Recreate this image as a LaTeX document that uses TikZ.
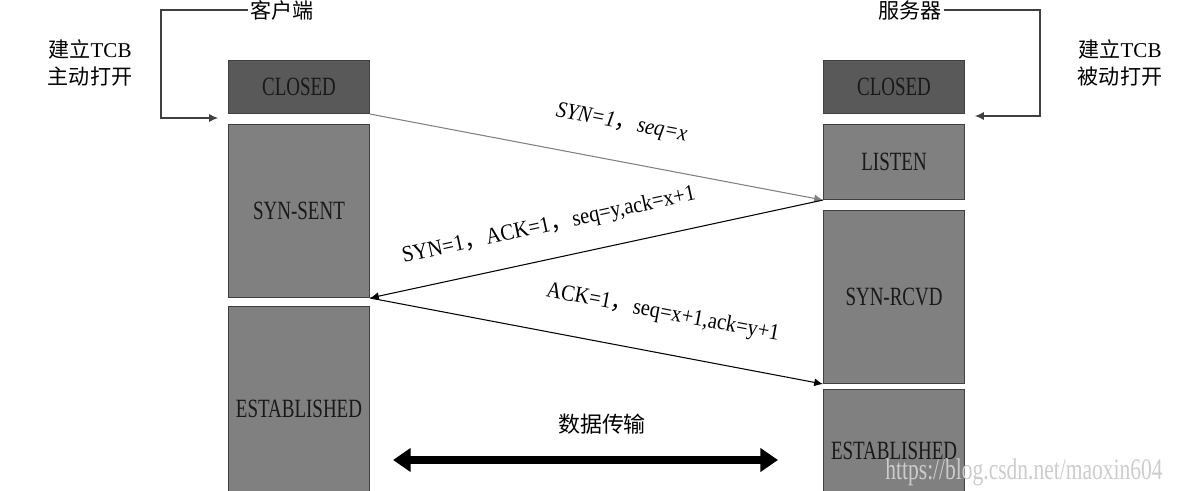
\documentclass[tikz,border=0pt]{standalone}
\usepackage{fontspec}
\setmainfont{Liberation Serif}
\newfontfamily\boxfont[FakeStretch=0.72]{Liberation Serif}
\newfontfamily\lblfont[FakeStretch=0.9]{Liberation Serif}
\newfontfamily\cjk{Noto Sans CJK SC}
\usetikzlibrary{arrows.meta}
\definecolor{stategray}{HTML}{808080}
\definecolor{closedgray}{HTML}{595959}
\newcommand{\cjkcomma}{{\cjk ，}}

\begin{document}
\begin{tikzpicture}[x=0.02cm, y=-0.02cm, >={Latex[length=5pt,width=4.5pt]},
  state/.style={draw=black!75, line width=0.6pt, fill=stategray, minimum width=2.82cm,
    inner sep=0pt, anchor=north west, text=black!90, font=\boxfont\fontsize{15}{17}\selectfont},
  closed/.style={state, fill=closedgray},
  msg/.style={->, line width=0.6pt},
  lbl/.style={sloped, font=\lblfont\fontsize{13}{15}\selectfont},
  tcb/.style={align=center, font=\fontsize{12}{15}\selectfont},
  bracket/.style={->, line width=0.6pt, draw=black!75}]
  \useasboundingbox (0,0) rectangle (1192,490);
  \clip (0,0) rectangle (1192,490);

  % client side
  \node[closed, minimum height=1.06cm] (cclosed) at (228,60) {CLOSED};
  \node[state, minimum height=3.46cm] (csent) at (228,124) {SYN-SENT};
  \node[state, minimum height=4.08cm] (cest) at (228,306) {ESTABLISHED};

  % server side
  \node[closed, minimum height=1.06cm] (sclosed) at (823,60) {CLOSED};
  \node[state, minimum height=1.5cm] (slisten) at (823,124) {LISTEN};
  \node[state, minimum height=3.46cm] (srcvd) at (823,210) {SYN-RCVD};
  \node[state, minimum height=2.44cm] (sest) at (823,389) {ESTABLISHED};

  % open TCB
  \node[tcb, inner sep=1pt] (client) at (282,10) {\cjk 客户端};
  \node[tcb, inner sep=1pt] (server) at (910,10) {\cjk 服务器};
  \node[tcb] (aopen) at (90,63) {{\cjk 建立}TCB\\{\cjk 主动打开}};
  \node[tcb] (popen) at (1120,63) {{\cjk 建立}TCB\\{\cjk 被动打开}};
  \coordinate (lturn) at (161,118);
  \coordinate (lin) at (218,118);
  \coordinate (rturn) at (1040,116);
  \coordinate (rin) at (975,116);
  \draw[bracket] (client.west) -| (lturn) -- (lin);
  \draw[bracket] (server.east) -| (rturn) -- (rin);

  % handshake
  \draw[msg, draw=stategray] (cclosed.south east) -- (slisten.south west)
    node[lbl, pos=0.54, above=12pt] {\itshape SYN=1\cjkcomma seq=x};
  \draw[msg] (slisten.south west) -- (csent.south east)
    node[lbl, pos=0.59, above=9pt] {SYN=1\cjkcomma ACK=1\cjkcomma seq=y,ack=x+1};
  \draw[msg] (csent.south east) -- (srcvd.south west)
    node[lbl, pos=0.63, above=13pt] {ACK=1\cjkcomma seq=x+1,ack=y+1};

  % data
  \node[tcb, font=\fontsize{12.5}{15}\selectfont] (data) at (602,424) {\cjk 数据传输};
  \coordinate (dleft) at (393,460);
  \coordinate (dright) at (778,460);
  \draw[line width=4.5pt, {Triangle[length=10pt,width=13pt]}-{Triangle[length=10pt,width=13pt]}]
    (dleft) -- (dright);

  \node[text=black!20, inner sep=0pt, font=\boxfont\fontsize{17}{19}\selectfont] (mark) at (1024,472) {https://blog.csdn.net/maoxin604};
\end{tikzpicture}
\end{document}
